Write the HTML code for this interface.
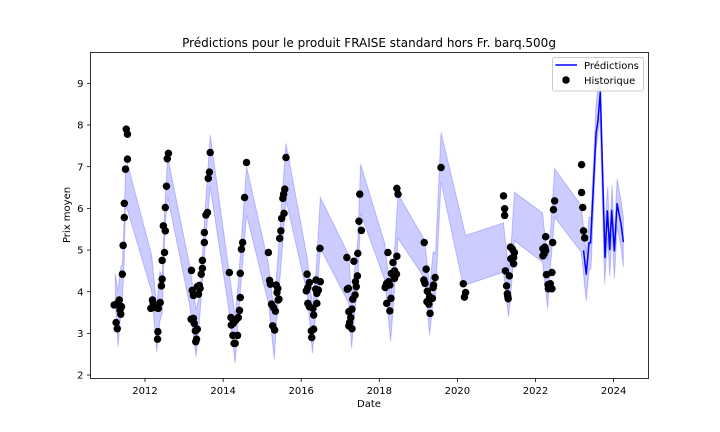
<!DOCTYPE html>
<html lang="fr">
<head>
<meta charset="utf-8">
<title>Prédictions pour le produit FRAISE</title>
<style>
html,body{margin:0;padding:0;background:#fff;}
svg{display:block;font-family:"DejaVu Sans","Liberation Sans",sans-serif;}
</style>
</head>
<body>
<svg id="chart" width="720" height="432" viewBox="0 0 720 432" xmlns="http://www.w3.org/2000/svg">
  <rect x="0" y="0" width="720" height="432" fill="#fff"/>
  <g id="band-layer"></g>
  <g id="line-layer"></g>
  <g id="point-layer"></g>
  <rect x="90.5" y="52.5" width="558" height="326" fill="none" stroke="#000" stroke-width="0.8"/>
  <g id="x-axis"></g>
  <g id="y-axis"></g>
  <text x="369" y="47" font-size="12" text-anchor="middle" fill="#000">Prédictions pour le produit FRAISE standard hors Fr. barq.500g</text>
  <text x="369" y="407" font-size="10" text-anchor="middle" fill="#000">Date</text>
  <text x="0" y="0" transform="translate(70,215) rotate(-90)" font-size="10" text-anchor="middle" fill="#000">Prix moyen</text>
  <g>
    <rect x="552.5" y="57.5" width="91" height="33.5" rx="2" fill="#fff" fill-opacity="0.8" stroke="#ccc" stroke-width="1"/>
    <line x1="555.5" y1="65" x2="577" y2="65" stroke="#0000ff" stroke-width="1.5"/>
    <text x="584" y="69" font-size="10" fill="#000">Prédictions</text>
    <circle cx="566" cy="80" r="3.75" fill="#000"/>
    <text x="584" y="84" font-size="10" fill="#000">Historique</text>
  </g>
</svg>
<script>
const xTickLabels = [2012, 2014, 2016, 2018, 2020, 2022, 2024];
const yTickLabels = [2, 3, 4, 5, 6, 7, 8, 9];

const historyDates = [
2011.21,2011.27,2011.34,2011.40,2011.36,2011.38,2011.26,2011.29,2011.42,2011.44,2011.47,2011.47,2011.50,2011.55,2011.52,2011.55,
2012.19,2012.15,2012.26,2012.34,2012.39,2012.21,2012.33,2012.32,2012.42,2012.44,2012.44,2012.50,2012.47,2012.52,2012.52,2012.55,2012.57,2012.60,
2013.19,2013.21,2013.24,2013.37,2013.39,2013.34,2013.41,2013.18,2013.24,2013.26,2013.34,2013.29,2013.32,2013.30,2013.44,2013.47,2013.47,2013.52,2013.52,2013.56,2013.60,2013.62,2013.65,2013.67,
2014.16,2014.20,2014.21,2014.26,2014.33,2014.39,2014.25,2014.37,2014.31,2014.28,2014.42,2014.44,2014.44,2014.47,2014.50,2014.55,2014.60,
2015.16,2015.19,2015.21,2015.24,2015.29,2015.34,2015.27,2015.32,2015.36,2015.40,2015.38,2015.43,2015.41,2015.45,2015.48,2015.50,2015.56,2015.53,2015.55,2015.58,2015.61,
2016.15,2016.13,2016.17,2016.21,2016.38,2016.49,2016.37,2016.44,2016.40,2016.17,2016.21,2016.30,2016.40,2016.32,2016.26,2016.32,2016.27,2016.48,
2017.17,2017.18,2017.21,2017.35,2017.45,2017.48,2017.54,2017.50,2017.44,2017.39,2017.41,2017.38,2017.32,2017.30,2017.22,2017.27,2017.24,2017.22,2017.30,
2018.22,2018.35,2018.45,2018.45,2018.48,2018.15,2018.19,2018.24,2018.17,2018.27,2018.35,2018.39,2018.44,2018.39,2018.31,2018.30,2018.19,2018.27,
2019.15,2019.20,2019.14,2019.17,2019.23,2019.29,2019.36,2019.27,2019.22,2019.27,2019.30,2019.43,2019.39,2019.38,2019.58,
2020.15,2020.21,2020.18,
2021.18,2021.21,2021.21,2021.36,2021.41,2021.46,2021.37,2021.44,2021.44,2021.23,2021.33,2021.26,2021.28,2021.30,2021.29,
2022.26,2022.19,2022.24,2022.26,2022.19,2022.22,2022.44,2022.49,2022.46,2022.42,2022.28,2022.32,2022.38,2022.33,2022.42,
2023.18,2023.18,2023.21,2023.23,2023.26];

const historyPrices = [
3.68,3.70,3.80,3.64,3.56,3.46,3.26,3.11,4.42,5.11,5.78,6.12,6.94,7.18,7.90,7.78,
3.80,3.60,3.62,3.60,3.74,3.72,3.04,2.86,4.14,4.30,4.75,4.94,5.58,5.46,6.02,6.53,7.19,7.32,
4.51,4.03,3.91,3.94,4.15,4.12,4.08,3.34,3.36,3.24,3.10,3.06,2.86,2.80,4.42,4.56,4.75,5.18,5.42,5.84,5.90,6.72,6.87,7.34,
4.46,3.38,3.20,3.24,3.32,3.38,2.95,2.95,2.76,2.76,3.55,3.86,4.44,5.02,5.18,6.26,7.10,
4.94,4.27,4.18,3.70,3.62,3.53,3.18,3.08,4.16,4.08,3.98,3.82,3.80,5.28,5.46,5.76,5.88,6.24,6.34,6.46,7.22,
4.42,4.02,4.10,4.22,4.28,4.24,4.06,4.04,3.96,3.72,3.64,3.60,3.72,3.44,3.06,3.10,2.90,5.04,
4.82,4.06,4.08,4.73,4.92,5.69,5.47,6.34,4.38,4.24,4.12,3.92,3.82,3.58,3.52,3.38,3.26,3.18,3.11,
4.94,4.70,4.85,6.48,6.34,4.10,4.20,4.24,4.14,4.16,4.40,4.50,4.42,4.32,4.44,3.84,3.72,3.54,
5.18,4.54,4.28,4.20,4.01,3.88,3.84,3.80,3.76,3.70,3.48,4.34,4.16,4.10,6.98,
4.19,3.98,3.87,
6.30,5.99,5.83,5.07,5.02,4.94,4.79,4.82,4.67,4.50,4.38,4.14,3.95,3.83,3.89,
5.32,5.03,5.07,4.99,4.86,4.91,5.18,6.18,5.97,4.46,4.41,4.17,4.19,4.07,4.07,
7.05,6.38,6.02,5.46,5.29];

const bandDates = [
2011.24,2011.31,2011.38,2011.42,2011.47,2011.50,2011.55,2012.17,2012.30,2012.38,2012.44,2012.51,2012.58,
2013.15,2013.31,2013.41,2013.54,2013.67,2014.16,2014.31,2014.39,2014.60,2015.16,2015.31,2015.36,2015.44,2015.61,
2016.15,2016.29,2016.38,2016.49,2017.22,2017.29,2017.37,2017.45,2017.52,2018.14,2018.29,2018.37,2018.48,
2019.16,2019.29,2019.38,2019.44,2019.58,2020.15,2020.21,2021.18,2021.31,2021.39,2021.46,2022.18,2022.31,2022.39,2022.49,
2023.17,2023.30,2023.37,2023.42,2023.55,2023.65,2023.77,2023.85,2023.90,2023.96,2024.02,2024.09,2024.19,2024.25];

const bandUpper = [
4.44,4.00,4.60,4.64,5.80,6.92,7.08,4.88,3.64,4.48,4.40,6.12,7.24,
4.60,3.56,3.96,5.96,7.76,4.44,3.40,4.24,7.00,4.68,3.48,4.28,5.32,7.56,
4.84,3.64,4.48,6.26,4.88,3.80,4.56,5.24,7.06,5.16,3.88,4.68,6.34,
5.24,4.12,4.96,4.92,7.82,5.59,5.35,5.65,4.55,5.31,6.39,5.89,4.75,5.55,6.95,
6.07,4.91,5.79,5.79,8.47,9.39,5.47,6.53,5.35,6.55,5.35,6.71,6.19,5.79];

const bandLower = [
3.72,2.68,3.48,3.80,4.76,6.04,5.96,4.00,2.56,3.28,3.48,5.48,6.28,
3.64,2.44,3.48,5.08,6.52,3.48,2.28,3.40,5.84,3.72,2.38,3.16,4.12,6.20,
3.96,2.52,3.56,5.04,3.72,2.64,3.48,4.12,5.88,4.28,2.80,3.80,5.28,
4.32,2.96,3.80,3.88,6.64,4.13,4.16,4.47,3.39,4.19,5.22,4.71,3.59,4.67,5.79,
4.95,3.78,4.51,4.55,7.39,8.19,4.19,5.31,4.37,5.39,4.31,5.55,5.07,4.59];

const predictionDates = [2023.23,2023.30,2023.37,2023.41,2023.55,2023.60,2023.66,2023.78,2023.84,2023.90,2023.95,2024.02,2024.09,2024.19,2024.25];
const predictionPrices = [4.99,4.42,5.17,5.17,7.79,8.11,8.79,4.82,5.94,5.01,5.95,4.98,6.11,5.63,5.19];

const SVG_NS = 'http://www.w3.org/2000/svg';
const PLOT_TOP = 52.5;
function xScale(d){ return 145 + (d - 2012) * 39.05; }
function yScale(v){ return 125 + (8 - v) * 41.67; }
function make(tag, attrs){
  const el = document.createElementNS(SVG_NS, tag);
  for (const k in attrs) el.setAttribute(k, attrs[k]);
  return el;
}

const clip = make('clipPath', {id:'plot-clip'});
clip.appendChild(make('rect', {x:90.5, y:PLOT_TOP, width:558, height:326}));
document.getElementById('chart').appendChild(clip);

const bandLayer = document.getElementById('band-layer');
bandLayer.setAttribute('clip-path', 'url(#plot-clip)');
const upperPts = bandDates.map((d, i) => xScale(d).toFixed(2) + ',' + yScale(bandUpper[i]).toFixed(2));
const lowerPts = bandDates.map((d, i) => xScale(d).toFixed(2) + ',' + yScale(bandLower[i]).toFixed(2)).reverse();
const bandPoly = make('polygon', {points: upperPts.concat(lowerPts).join(' '), fill:'#0000ff', 'fill-opacity':0.2, stroke:'#0000ff', 'stroke-opacity':0.2, 'stroke-width':1});


bandLayer.appendChild(bandPoly);

const lineLayer = document.getElementById('line-layer');
lineLayer.setAttribute('clip-path', 'url(#plot-clip)');
const predLine = make('polyline', {points: predictionDates.map((d, i) => xScale(d).toFixed(2) + ',' + yScale(predictionPrices[i]).toFixed(2)).join(' '), fill:'none', stroke:'#0000ff', 'stroke-width':1.5, 'stroke-linejoin':'round'});


lineLayer.appendChild(predLine);

const pointLayer = document.getElementById('point-layer');
historyDates.forEach((d, i) => {
  const dot = make('circle', {cx: xScale(d).toFixed(2), cy: yScale(historyPrices[i]).toFixed(2), r:3.75, fill:'#000'});
  
  
  pointLayer.appendChild(dot);
});

const xAxis = document.getElementById('x-axis');
xTickLabels.forEach(t => {
  const x = xScale(t);
  const tick = make('line', {x1:x, x2:x, y1:378.5, y2:382, stroke:'#000', 'stroke-width':0.8});
  
  
  xAxis.appendChild(tick);
  const label = make('text', {x:x, y:394, 'font-size':10, 'text-anchor':'middle', fill:'#000'});
  
  
  label.textContent = String(t);
  xAxis.appendChild(label);
});

const yAxis = document.getElementById('y-axis');
yTickLabels.forEach(t => {
  const y = yScale(t);
  const tick = make('line', {x1:87, x2:90.5, y1:y, y2:y, stroke:'#000', 'stroke-width':0.8});
  
  
  yAxis.appendChild(tick);
  const label = make('text', {x:83.5, y:y + 3.6, 'font-size':10, 'text-anchor':'end', fill:'#000'});
  
  
  label.textContent = String(t);
  yAxis.appendChild(label);
});
</script>
</body>
</html>
